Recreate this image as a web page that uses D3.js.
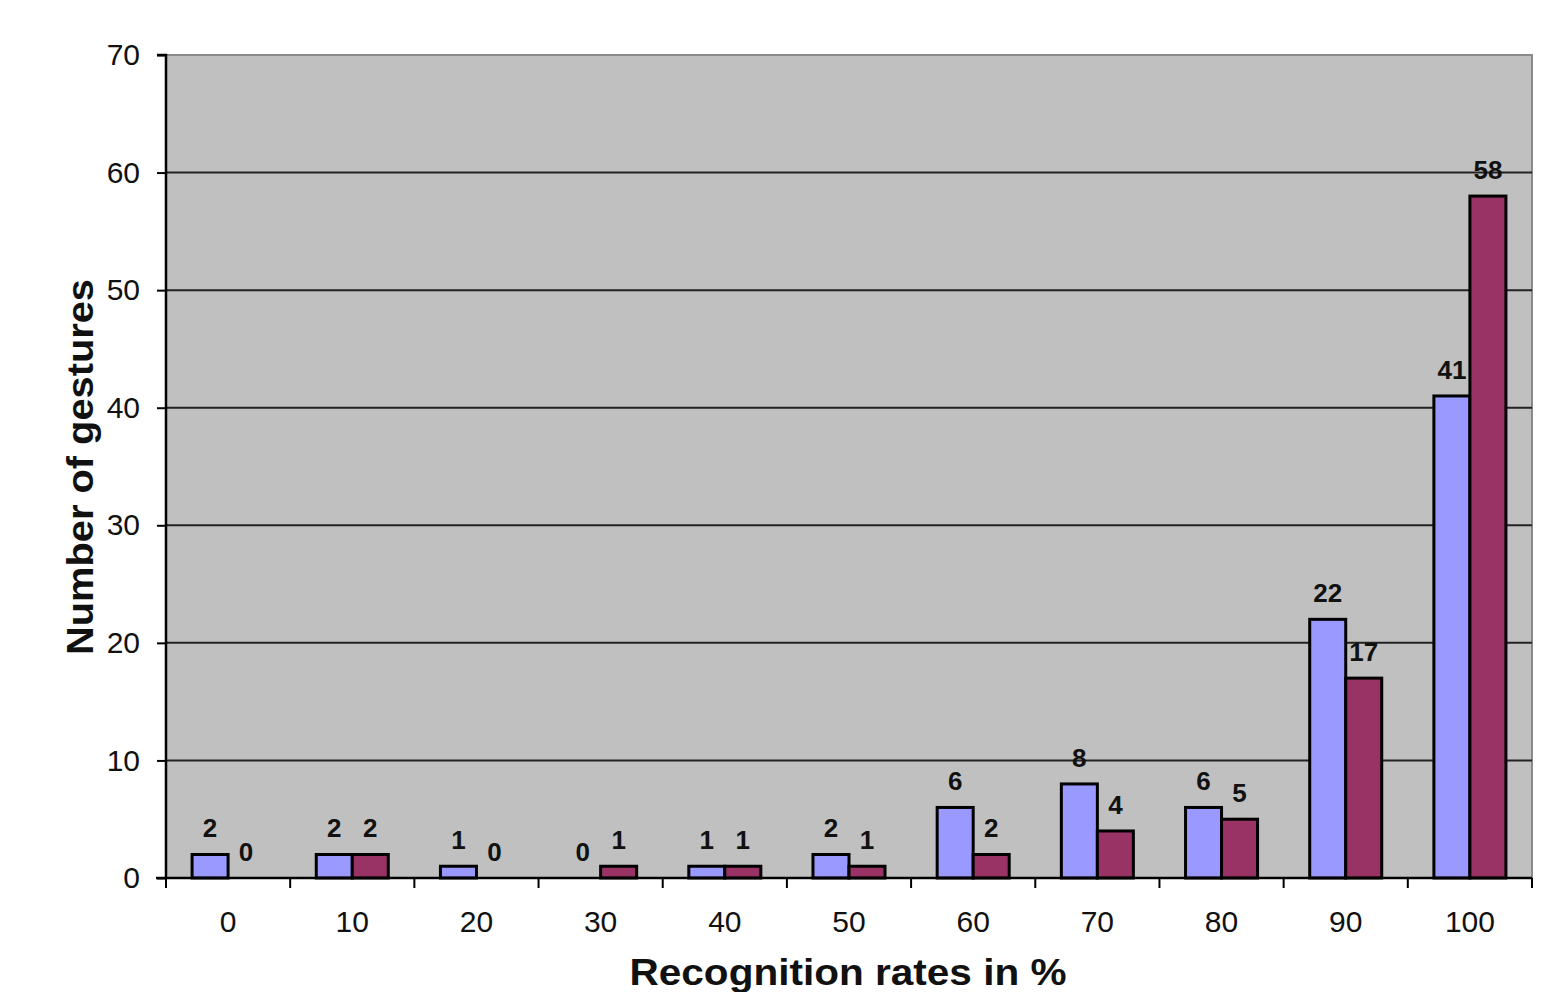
<!DOCTYPE html>
<html><head><meta charset="utf-8">
<script src="https://cdn.jsdelivr.net/npm/d3@7"></script>
<style>body{margin:0;background:#fff}svg{display:block}text{font-family:"Liberation Sans",Arial,sans-serif}</style>
</head><body><svg id="c" width="1548" height="992"></svg>
<script>
const categories = ["0","10","20","30","40","50","60","70","80","90","100"];
const seriesA = [2,2,1,0,1,2,6,8,6,22,41];
const seriesB = [0,2,0,1,1,1,2,4,5,17,58];
const yTicks = [0,10,20,30,40,50,60,70];
const xTitle = "Recognition rates in %";
const yTitle = "Number of gestures";

const svg = d3.select("#c");
const L=166, R=1532, T=55, B=878;
const x = d3.scaleBand().domain(categories).range([L,R]);
const y = d3.scaleLinear().domain([0,70]).range([B,T]);
const bw = x.bandwidth()*0.29;

svg.append("rect").attr("x",L).attr("y",T).attr("width",R-L).attr("height",B-T)
  .attr("fill","#c0c0c0").attr("stroke","#8a8a8a").attr("stroke-width",2);

svg.append("g").selectAll("line").data(yTicks.filter(d=>d>0&&d<70)).join("line")
  .attr("x1",L).attr("x2",R).attr("y1",d=>y(d)).attr("y2",d=>y(d))
  .attr("stroke","#222").attr("stroke-width",2);

const series=[{v:seriesA,c:"#9999ff",o:-1},{v:seriesB,c:"#993366",o:0}];
series.forEach(s=>{
  const g=svg.append("g");
  g.selectAll("rect").data(categories.map((c,i)=>({c,v:s.v[i]})).filter(d=>d.v>0)).join("rect")
    .attr("x",d=>x(d.c)+x.bandwidth()/2+s.o*bw).attr("width",bw)
    .attr("y",d=>y(d.v)).attr("height",d=>B-y(d.v))
    .attr("fill",s.c).attr("stroke","#000").attr("stroke-width",3);
  g.selectAll("text").data(categories.map((c,i)=>({c,v:s.v[i]}))).join("text")
    .attr("x",d=>x(d.c)+x.bandwidth()/2+s.o*bw+bw/2).attr("y",d=>y(d.v)-17)
    .attr("text-anchor","middle").attr("font-size",26).attr("font-weight","bold").attr("fill","#111")
    .text(d=>d.v);
});

// y axis
const ya=d3.axisLeft(y).tickValues(yTicks).tickSize(9).tickPadding(17).tickFormat(d3.format("d"));
const yg=svg.append("g").attr("transform",`translate(${L},0)`).call(ya);
yg.select(".domain").attr("stroke","#000").attr("stroke-width",2.5).attr("d",`M-9,${T}H0V${B}`);
yg.selectAll(".tick line").attr("stroke","#000").attr("stroke-width",2);
yg.selectAll(".tick text").attr("font-size",30).attr("fill","#111").attr("font-family","Liberation Sans, Arial, sans-serif");

// x axis
const xa=svg.append("g");
xa.append("line").attr("x1",L-10).attr("x2",R).attr("y1",B).attr("y2",B).attr("stroke","#000").attr("stroke-width",2.5);
const bounds=categories.map(c=>x(c)).concat([R]);
xa.selectAll("line.t").data(bounds).join("line").attr("class","t")
  .attr("x1",d=>d).attr("x2",d=>d).attr("y1",B).attr("y2",B+10).attr("stroke","#000").attr("stroke-width",2);
xa.selectAll("text").data(categories).join("text")
  .attr("x",d=>x(d)+x.bandwidth()/2).attr("y",932).attr("text-anchor","middle")
  .attr("font-size",30).attr("fill","#111").text(d=>d);

svg.append("text").attr("x",848).attr("y",985).attr("text-anchor","middle")
  .attr("font-size",37).attr("font-weight","bold").attr("fill","#111")
  .attr("textLength",437).attr("lengthAdjust","spacingAndGlyphs").text(xTitle);
svg.append("text").attr("transform","translate(93,467) rotate(-90)").attr("text-anchor","middle")
  .attr("font-size",37).attr("font-weight","bold").attr("fill","#111")
  .attr("textLength",376).attr("lengthAdjust","spacingAndGlyphs").text(yTitle);
</script></body></html>
